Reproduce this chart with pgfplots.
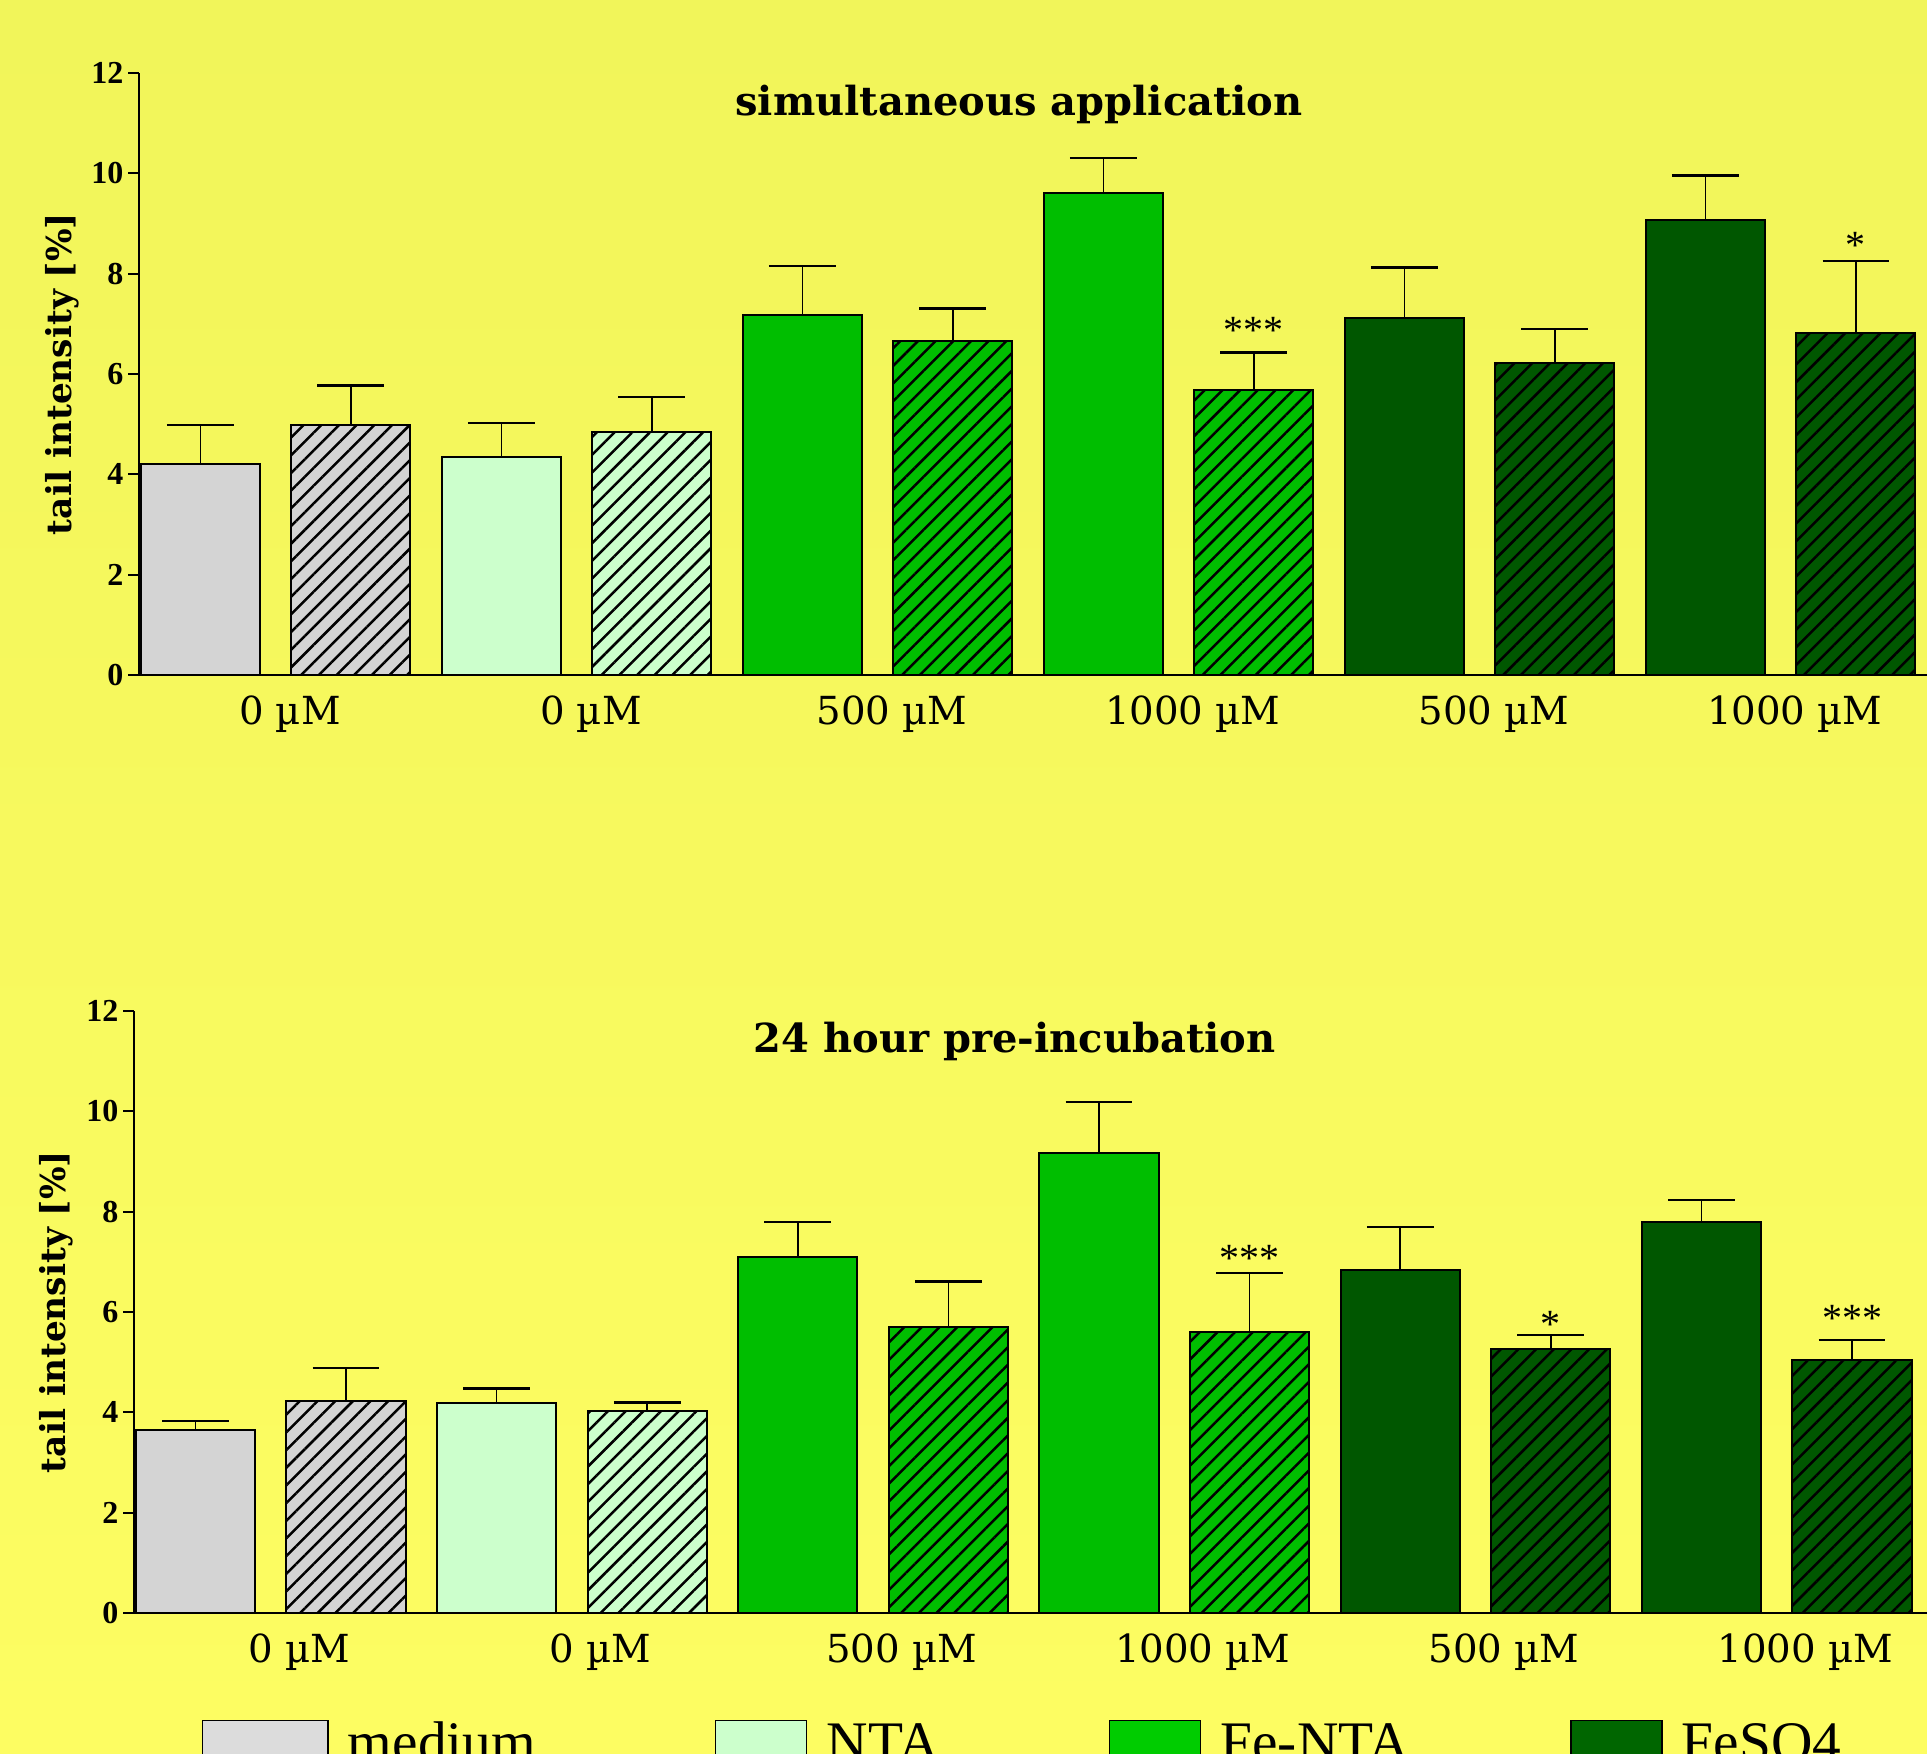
\documentclass[border=0pt]{standalone}
\usepackage{fontspec}
\setmainfont{DejaVu Serif}
\newfontfamily\libser{Liberation Serif}
\usepackage{pgfplots}
\pgfplotsset{compat=1.18}
\usetikzlibrary{patterns.meta}

\definecolor{bgtop}{RGB}{241,245,90}
\definecolor{bgbot}{RGB}{253,253,98}
\definecolor{cmed}{RGB}{212,212,212}
\definecolor{cnta}{RGB}{204,255,204}
\definecolor{cfe}{RGB}{0,190,0}
\definecolor{cfes}{RGB}{0,87,0}
\definecolor{lmed}{RGB}{220,220,220}
\definecolor{lnta}{RGB}{204,255,204}
\definecolor{lfe}{RGB}{0,204,0}
\definecolor{lfes}{RGB}{0,102,0}

\pgfplotsset{
  panel/.style={
    scale only axis, anchor=south west, height=180.6pt,
    ymin=0, ymax=12, ytick={0,2,...,12},
    axis x line=bottom, axis y line=left,
    axis line style={-, line width=0.7pt, black},
    tick align=outside, major tick length=3.3pt,
    ytick style={line width=0.6pt, black},
    xtick style={draw=none},
    /pgf/number format/assume math mode=true,
    yticklabel style={font=\libser\bfseries\fontsize{9.6}{10}\selectfont, inner sep=0pt, xshift=-1.2pt},
    xticklabel style={font=\fontsize{11.6}{13}\selectfont, anchor=base, yshift=-11.7pt},
    xticklabels={0 µM,0 µM,500 µM,1000 µM,500 µM,1000 µM},
    ylabel={tail intensity [\%]},
    every axis y label/.style={at={(axis description cs:-0.0431,0.5)}, rotate=90, anchor=center, font=\bfseries\fontsize{10.3}{12}\selectfont},
    clip=false,
  },
  bars/.style={ybar, bar shift=0pt, bar width=0.792, draw=black, line width=0.6pt,
    error bars/y dir=plus, error bars/y explicit,
    error bars/error mark=|,
    error bars/error bar style={line width=0.45pt, black, solid},
    error bars/error mark options={line width=0.75pt, mark size=10pt, black}},
  hatch/.style={postaction={pattern={Lines[angle=45,distance=3.75pt,line width=0.75pt]}, pattern color=black}},
}

\begin{document}
\begin{tikzpicture}
\shade[top color=bgtop, bottom color=bgbot] (0pt,0pt) rectangle (578.1pt,526.2pt);

% ---------- top panel ----------
\begin{axis}[panel, at={(41.7pt,323.7pt)}, width=536.4pt,
  xmin=-0.4073, xmax=11.473,
  xtick={0.595,2.595,4.595,6.595,8.595,10.595}]
\addplot[bars, fill=cmed] coordinates {(0,4.21) +- (0,0.77)};
\addplot[bars, fill=cnta] coordinates {(2,4.35) +- (0,0.67)};
\addplot[bars, fill=cfe] coordinates {(4,7.17) +- (0,0.98) (6,9.60) +- (0,0.71)};
\addplot[bars, fill=cfes] coordinates {(8,7.12) +- (0,1.00) (10,9.06) +- (0,0.90)};
\addplot[bars, fill=cmed, hatch] coordinates {(1,4.98) +- (0,0.79)};
\addplot[bars, fill=cnta, hatch] coordinates {(3,4.84) +- (0,0.70)};
\addplot[bars, fill=cfe, hatch] coordinates {(5,6.65) +- (0,0.66) (7,5.69) +- (0,0.74)};
\addplot[bars, fill=cfes, hatch] coordinates {(9,6.21) +- (0,0.69) (11,6.82) +- (0,1.43)};
\node[font=\bfseries\fontsize{12}{14}\selectfont] at (axis cs:5.44,11.37) {simultaneous application};
\node[font=\libser\fontsize{12}{14}\selectfont, anchor=base] at (axis cs:7,6.60) {***};
\node[font=\libser\fontsize{12}{14}\selectfont, anchor=base] at (axis cs:11,8.30) {*};
\end{axis}

% ---------- bottom panel ----------
\begin{axis}[panel, at={(40.2pt,42.3pt)}, width=537.9pt,
  xmin=-0.4077, xmax=11.498,
  xtick={0.69,2.69,4.69,6.69,8.69,10.69},
  legend columns=4,
  legend style={at={(axis description cs:0.0377,-0.1694)}, anchor=north west,
    draw=none, fill=none, inner sep=0pt, outer sep=0pt,
    font=\libser\fontsize{17.2}{19}\selectfont,
    cells={anchor=base west, inner sep=0pt},
    /tikz/every odd column/.append style={column sep=3.8pt},
    /tikz/every even column/.append style={column sep=0pt}}]
\addplot[bars, fill=cmed, legend image code/.code={\draw[fill=lmed, draw=black, line width=0.5pt] (0pt,-14pt) rectangle (37.6pt,12.3pt);}] coordinates {(0,3.65) +- (0,0.18)};
\addlegendentry{\makebox[108pt][l]{medium}}
\addplot[bars, fill=cnta, legend image code/.code={\draw[fill=lnta, draw=black, line width=0.5pt] (0pt,-14pt) rectangle (27.3pt,12.3pt);}] coordinates {(2,4.19) +- (0,0.28)};
\addlegendentry{\makebox[82.6pt][l]{NTA}}
\addplot[bars, fill=cfe, legend image code/.code={\draw[fill=lfe, draw=black, line width=0.5pt] (0pt,-14pt) rectangle (27.3pt,12.3pt);}] coordinates {(4,7.10) +- (0,0.69) (6,9.16) +- (0,1.03)};
\addlegendentry{\makebox[102.8pt][l]{Fe-NTA}}
\addplot[bars, fill=cfes, legend image code/.code={\draw[fill=lfes, draw=black, line width=0.5pt] (0pt,-14pt) rectangle (27.3pt,12.3pt);}] coordinates {(8,6.83) +- (0,0.86) (10,7.79) +- (0,0.44)};
\addlegendentry{FeSO4}
\addplot[bars, fill=cmed, hatch, forget plot] coordinates {(1,4.22) +- (0,0.66)};
\addplot[bars, fill=cnta, hatch, forget plot] coordinates {(3,4.02) +- (0,0.18)};
\addplot[bars, fill=cfe, hatch, forget plot] coordinates {(5,5.71) +- (0,0.90) (7,5.61) +- (0,1.17)};
\addplot[bars, fill=cfes, hatch, forget plot] coordinates {(9,5.27) +- (0,0.27) (11,5.05) +- (0,0.39)};
\node[font=\bfseries\fontsize{12}{14}\selectfont] at (axis cs:5.44,11.40) {24 hour pre-incubation};
\node[font=\libser\fontsize{12}{14}\selectfont, anchor=base] at (axis cs:7,6.81) {***};
\node[font=\libser\fontsize{12}{14}\selectfont, anchor=base] at (axis cs:9,5.49) {*};
\node[font=\libser\fontsize{12}{14}\selectfont, anchor=base] at (axis cs:11,5.61) {***};
\end{axis}

\pgfresetboundingbox
\useasboundingbox (0pt,0pt) rectangle (578.1pt,526.2pt);
\end{tikzpicture}
\end{document}
